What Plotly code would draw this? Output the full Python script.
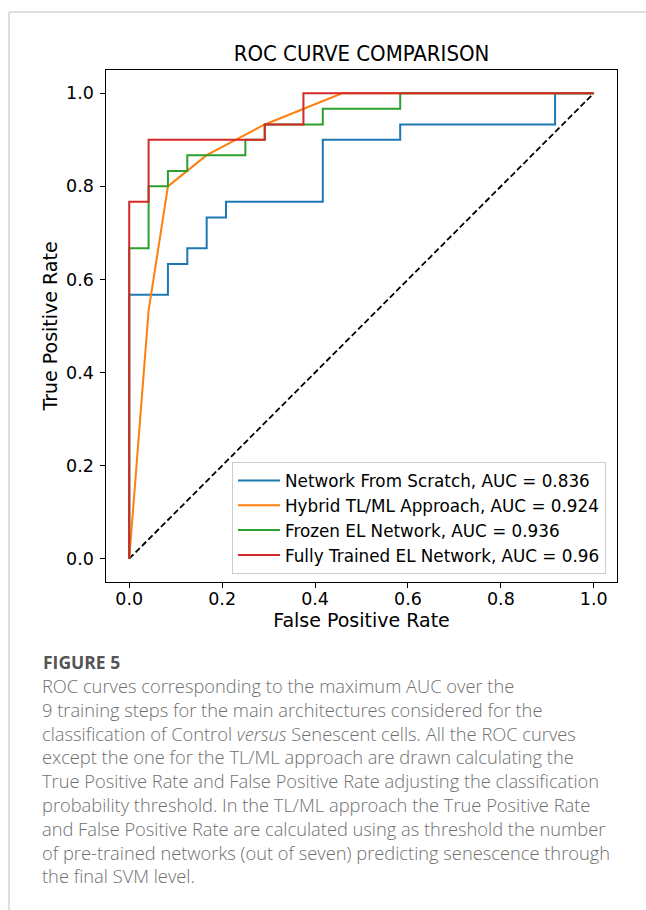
import plotly.graph_objects as go

# ---- data ----
scratch_fpr = [0, 0, 0.0833, 0.0833, 0.125, 0.125, 0.1667, 0.1667, 0.2083, 0.2083,
               0.4167, 0.4167, 0.5833, 0.5833, 0.9167, 0.9167, 1.0]
scratch_tpr = [0, 0.567, 0.567, 0.633, 0.633, 0.667, 0.667, 0.733, 0.733, 0.767,
               0.767, 0.9, 0.9, 0.933, 0.933, 1.0, 1.0]

hybrid_fpr = [0, 0.0417, 0.0833, 0.1667, 0.2917, 0.4583, 1.0]
hybrid_tpr = [0, 0.533, 0.8, 0.867, 0.933, 1.0, 1.0]

frozen_fpr = [0, 0, 0.0417, 0.0417, 0.0833, 0.0833, 0.125, 0.125, 0.25, 0.25,
              0.2917, 0.2917, 0.4167, 0.4167, 0.5833, 0.5833, 1.0]
frozen_tpr = [0, 0.667, 0.667, 0.8, 0.8, 0.833, 0.833, 0.867, 0.867, 0.9,
              0.9, 0.933, 0.933, 0.967, 0.967, 1.0, 1.0]

full_fpr = [0, 0, 0.0417, 0.0417, 0.2917, 0.2917, 0.375, 0.375, 1.0]
full_tpr = [0, 0.767, 0.767, 0.9, 0.9, 0.933, 0.933, 1.0, 1.0]

chance_x = [0, 1]
chance_y = [0, 1]

series_names = ["Network From Scratch, AUC = 0.836",
                "Hybrid TL/ML Approach, AUC = 0.924",
                "Frozen EL Network, AUC = 0.936",
                "Fully Trained EL Network, AUC = 0.96"]
series_colors = ["#1f77b4", "#ff7f0e", "#2ca02c", "#d62728"]

tick_vals = [0.0, 0.2, 0.4, 0.6, 0.8, 1.0]
tick_text = ["0.0", "0.2", "0.4", "0.6", "0.8", "1.0"]

caption_title = "FIGURE 5"
caption_lines = [
    "ROC curves corresponding to the maximum AUC over the",
    "9 training steps for the main architectures considered for the",
    "classification of Control <i>versus</i> Senescent cells. All the ROC curves",
    "except the one for the TL/ML approach are drawn calculating the",
    "True Positive Rate and False Positive Rate adjusting the classification",
    "probability threshold. In the TL/ML approach the True Positive Rate",
    "and False Positive Rate are calculated using as threshold the number",
    "of pre-trained networks (out of seven) predicting senescence through",
    "the final SVM level.",
]

# ---- layout geometry (pixels) ----
W, H = 646, 910
PL, PR, PT, PB = 106, 617, 70, 582


def px(x):
    return (x - PL) / (PR - PL)


def py(y):
    return (PB - y) / (PB - PT)


fig = go.Figure()
fig.add_trace(go.Scatter(x=chance_x, y=chance_y, mode="lines", showlegend=False,
                         line=dict(color="black", width=1.8, dash="6px,3px")))
for fx, ty, name, col in zip([scratch_fpr, hybrid_fpr, frozen_fpr, full_fpr],
                             [scratch_tpr, hybrid_tpr, frozen_tpr, full_tpr],
                             series_names, series_colors):
    fig.add_trace(go.Scatter(x=fx, y=ty, mode="lines", name=name,
                             line=dict(color=col, width=2)))

axis_common = dict(range=[-0.05, 1.05], showgrid=False, zeroline=False,
                   showline=True, mirror=True, linecolor="black", linewidth=1.2,
                   ticks="outside", ticklen=4.5, tickwidth=1.1, tickcolor="black",
                   tickvals=tick_vals, ticktext=tick_text,
                   tickfont=dict(family="DejaVu Sans", size=17.5, color="black"))

fig.update_xaxes(**axis_common, ticklabelstandoff=-4,
                 title=dict(text="False Positive Rate", standoff=0,
                            font=dict(family="DejaVu Sans", size=19, color="black")))
fig.update_yaxes(**axis_common, ticklabelstandoff=3,
                 title=dict(text="True Positive Rate", standoff=3,
                            font=dict(family="DejaVu Sans", size=19, color="black")))

cap_font = "Open Sans"
cap_size = 18.3
annotations = [
    dict(text=caption_title, x=px(41), y=py(662), xref="paper", yref="paper",
         xanchor="left", yanchor="middle", showarrow=False,
         font=dict(family=cap_font, size=17.5, color="#555555", weight="bold")),
    dict(text="<br>".join(caption_lines), x=px(40), y=py(671), xref="paper", yref="paper",
         xanchor="left", yanchor="top", align="left", showarrow=False,
         font=dict(family=cap_font, size=cap_size, color="#707070", weight=300)),
]

shapes = [
    dict(type="line", xref="paper", yref="paper", x0=px(9), x1=px(646), y0=py(12), y1=py(12),
         line=dict(color="#d5d5d5", width=1.5)),
    dict(type="line", xref="paper", yref="paper", x0=px(9), x1=px(9), y0=py(12), y1=py(910),
         line=dict(color="#d5d5d5", width=1.5)),
]

fig.update_layout(
    width=W, height=H, autosize=False,
    margin=dict(l=PL, r=W - PR, t=PT, b=H - PB),
    paper_bgcolor="white", plot_bgcolor="white",
    title=dict(text="ROC CURVE COMPARISON", x=0.5, xanchor="center", xref="paper",
               y=1 - 53 / H, yref="container", yanchor="middle",
               font=dict(family="DejaVu Sans Condensed, Liberation Sans Narrow, DejaVu Sans",
                         size=22, color="black")),
    legend=dict(x=px(232), y=py(574), xanchor="left", yanchor="bottom",
                bgcolor="white", bordercolor="#cccccc", borderwidth=1,
                font=dict(family="DejaVu Sans", size=16.8, color="black"),
                itemwidth=42),
    annotations=annotations,
    shapes=shapes,
)

fig.write_html("out.html", config={"displayModeBar": False},
               post_script="document.body.style.margin='0px';")
